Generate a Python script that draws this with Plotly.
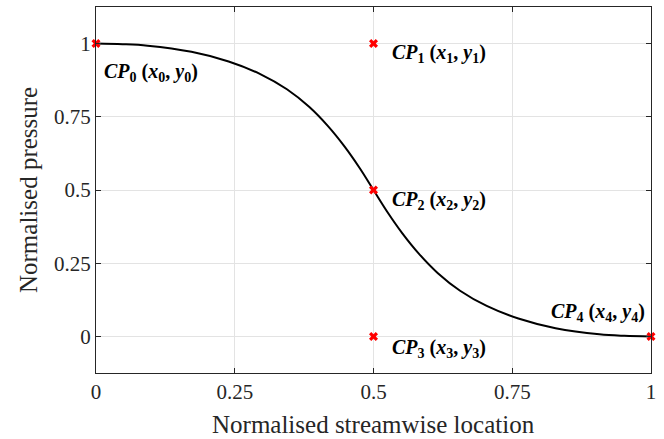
import plotly.graph_objects as go

# Curve
curve_x = [0.0, 0.048, 0.093, 0.172, 0.239, 0.296, 0.344, 0.384, 0.418, 0.448, 0.475, 0.5,
           0.525, 0.552, 0.582, 0.616, 0.656, 0.704, 0.761, 0.828, 0.907, 0.952, 1.0]
curve_y = [1.0, 0.998, 0.993, 0.972, 0.939, 0.896, 0.844, 0.784, 0.718, 0.648, 0.575, 0.5,
           0.425, 0.352, 0.282, 0.216, 0.156, 0.104, 0.061, 0.028, 0.007, 0.002, 0.0]

# Control points
cp_x = [0.0, 0.5, 0.5, 0.5, 1.0]
cp_y = [1.0, 1.0, 0.5, 0.0, 0.0]
cp_labels = [
    "<b><i>CP</i><sub>%d</sub> (<i>x</i><sub>%d</sub>, <i>y</i><sub>%d</sub>)</b>" % (i, i, i)
    for i in range(5)
]
label_x = [0.010, 0.530, 0.530, 0.530, 0.993]
label_y = [0.901, 0.966, 0.464, -0.041, 0.082]
label_anchor = ["left", "left", "left", "left", "right"]

ticks = [0, 0.25, 0.5, 0.75, 1]
tick_text = ["0", "0.25", "0.5", "0.75", "1"]

x_title = "Normalised streamwise location"
y_title = "Normalised pressure"

FONT = "Liberation Serif"
TXT = "#262626"

fig = go.Figure()
fig.add_trace(go.Scatter(x=curve_x, y=curve_y, mode="lines", line_shape="spline",
                         line=dict(color="black", width=2), hoverinfo="skip"))
fig.add_trace(go.Scatter(x=cp_x, y=cp_y, mode="markers", cliponaxis=False,
                         marker=dict(symbol="x", size=8, color="#ff0000", line=dict(width=0))))

for lx, ly, txt, anc in zip(label_x, label_y, cp_labels, label_anchor):
    fig.add_annotation(x=lx, y=ly, text=txt, showarrow=False, xanchor=anc, yanchor="middle",
                       font=dict(family=FONT, size=20, color="black"))

fig.add_annotation(x=0.5, y=-0.142, xref="paper", yref="paper", text=x_title, showarrow=False,
                   xanchor="center", yanchor="middle", font=dict(family=FONT, size=25, color=TXT))
fig.add_annotation(x=-0.1225, y=0.5, xref="paper", yref="paper", text=y_title, showarrow=False,
                   textangle=-90, xanchor="center", yanchor="middle",
                   font=dict(family=FONT, size=25, color=TXT))

axis_common = dict(
    showgrid=True, gridcolor="#e3e3e3", gridwidth=1,
    showline=True, linecolor="#262626", linewidth=1, mirror="ticks",
    ticks="inside", ticklen=5, tickcolor="#262626",
    tickvals=ticks, ticktext=tick_text, zeroline=False,
    tickfont=dict(family=FONT, size=21, color=TXT),
    automargin=False, ticklabeloverflow="allow",
)

fig.update_layout(
    width=664, height=439,
    margin=dict(l=96, r=13, t=7, b=66),
    paper_bgcolor="white", plot_bgcolor="white",
    showlegend=False,
    xaxis=dict(range=[0, 1], **axis_common),
    yaxis=dict(range=[-0.125, 1.125], **axis_common),
)

fig.write_html("out.html", config={"displayModeBar": False},
               post_script="document.body.style.margin='0px';document.body.style.overflow='hidden';")
